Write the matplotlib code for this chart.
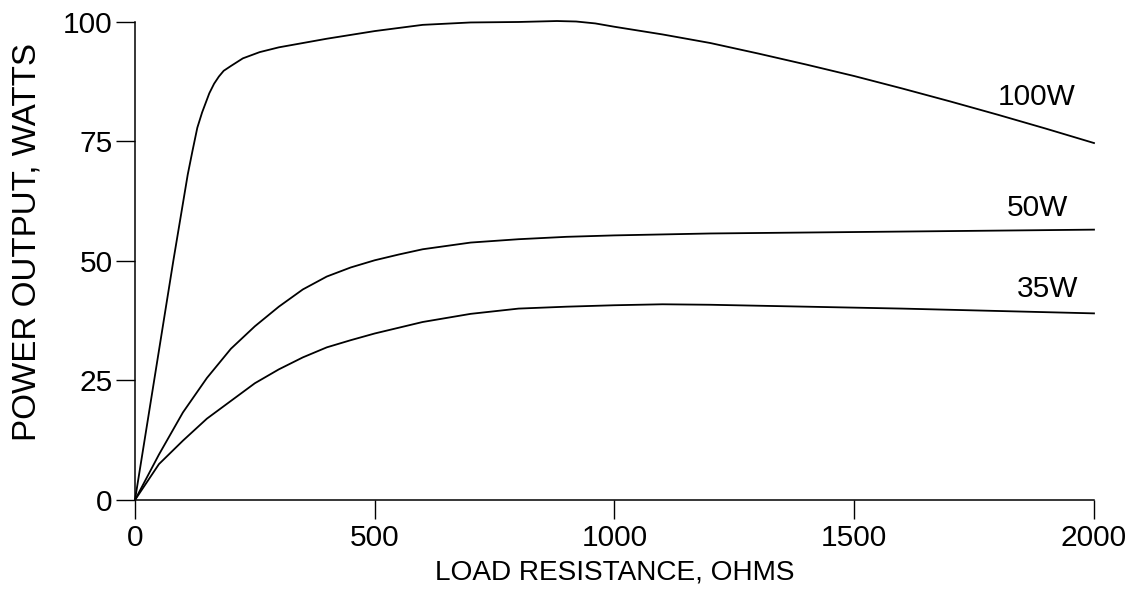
import matplotlib
matplotlib.use("Agg")
import matplotlib.pyplot as plt

plt.rcParams['font.family'] = ['Liberation Sans', 'DejaVu Sans']

# curve readings (load resistance in ohms, power output in watts)
x_100w = [0, 40, 80, 100, 110, 120, 130, 140, 155, 165, 175, 185, 200, 225, 260,
          300, 400, 500, 600, 700, 800, 880, 920, 960, 1000, 1100, 1200, 1300,
          1400, 1500, 1600, 1700, 1800, 1900, 2000]
p_100w = [0, 25, 50, 62, 68, 73, 77.8, 81, 85, 87, 88.5, 89.7, 90.7, 92.3, 93.6,
          94.6, 96.4, 98.0, 99.3, 99.8, 99.9, 100.1, 100.0, 99.6, 98.9, 97.3, 95.5,
          93.3, 91.0, 88.6, 86.0, 83.3, 80.5, 77.6, 74.6]

x_50w = [0, 50, 100, 150, 200, 250, 300, 350, 400, 450, 500, 550, 600, 700, 800,
         900, 1000, 1200, 1400, 1600, 1800, 2000]
p_50w = [0, 9.5, 18.3, 25.5, 31.6, 36.3, 40.4, 44.0, 46.7, 48.6, 50.1, 51.3, 52.4,
         53.8, 54.5, 55.0, 55.3, 55.7, 55.9, 56.1, 56.3, 56.5]

x_35w = [0, 50, 100, 150, 200, 250, 300, 350, 400, 450, 500, 550, 600, 700, 800,
         900, 1000, 1100, 1200, 1400, 1600, 1800, 2000]
p_35w = [0, 7.5, 12.4, 17.0, 20.7, 24.4, 27.3, 29.8, 31.9, 33.4, 34.8, 36.0, 37.2,
         38.9, 40.0, 40.4, 40.7, 40.9, 40.8, 40.4, 40.0, 39.5, 39.0]

curve_names = ['100W', '50W', '35W']
label_pos = [(1881, 84.3), (1883, 61.1), (1904, 44.1)]

x_ticks = [0, 500, 1000, 1500, 2000]
y_ticks = [0, 25, 50, 75, 100]

fig = plt.figure(figsize=(11.41, 5.99), dpi=100)
ax = fig.add_axes([0.1183, 0.1653, 0.8405, 0.7988])

for xs, ys in [(x_100w, p_100w), (x_50w, p_50w), (x_35w, p_35w)]:
    ax.plot(xs, ys, color='black', linewidth=1.3, solid_joinstyle='round',
            clip_on=False)

for name, (lx, ly) in zip(curve_names, label_pos):
    ax.text(lx, ly, name, fontsize=21.5, ha='center', va='center')

ax.set_xlim(0, 2000)
ax.set_ylim(0, 100)
ax.set_xticks(x_ticks)
ax.set_yticks(y_ticks)
ax.spines['top'].set_visible(False)
ax.spines['right'].set_visible(False)
for s in ['left', 'bottom']:
    ax.spines[s].set_linewidth(1.1)
ax.tick_params(axis='both', length=14, width=1.0, labelsize=21.5, direction='out')
ax.tick_params(axis='x', pad=3)
ax.tick_params(axis='y', pad=2)

ax.set_xlabel('LOAD RESISTANCE, OHMS', fontsize=20.2, labelpad=6)
ax.set_ylabel('POWER OUTPUT, WATTS', fontsize=23.9)
# label sits a bit above the axes centre in the original
ax.yaxis.set_label_coords(-0.096, 0.539)

fig.savefig('out.png', dpi=100)
